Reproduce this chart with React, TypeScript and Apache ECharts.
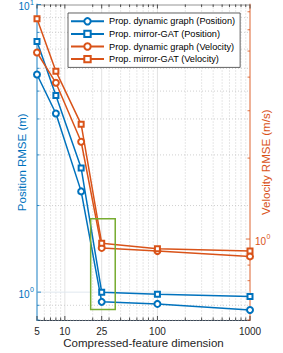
import React, { useEffect, useRef } from "react";
import * as echarts from "echarts";

// ---- data ----
const dims = [5, 8, 15, 25, 100, 1000];
const posDynamic = [5.71, 4.18, 2.24, 0.925, 0.91, 0.867];
const posMirror = [7.43, 4.83, 2.7, 1.0, 0.984, 0.965];
const velDynamic = [4.94, 3.81, 2.3, 0.927, 0.902, 0.862];
const velMirror = [6.59, 4.21, 2.67, 0.965, 0.92, 0.902];

const seriesNames = [
  "Prop. dynamic graph (Position)",
  "Prop. mirror-GAT (Position)",
  "Prop. dynamic graph (Velocity)",
  "Prop. mirror-GAT (Velocity)",
];

// ---- axes ----
const xRange = [5, 1000];
const leftRange = [0.8, 10];
const rightRange = [0.5, 7.45];
const xTickLabels = [5, 10, 25, 100, 1000];
const xMajorGrid = [10, 25, 100];
const xMinor = [6, 7, 8, 9, 20, 30, 40, 50, 60, 70, 80, 90, 200, 300, 400, 500, 600, 700, 800, 900];
const leftMajor = [1, 10];
const leftMinor = [0.8, 0.9, 2, 3, 4, 5, 6, 7, 8, 9];
const rightMajor = [1];
const rightMinor = [0.5, 0.6, 0.7, 0.8, 0.9, 2, 3, 4, 5, 6, 7];

// highlight rectangle (x in dims, y on the position axis)
const boxX = [19, 35];
const boxY = [0.87, 1.8];

const BLUE = "#0072BD";
const ORANGE = "#D95319";
const GREEN = "#77AC30";
const DARK = "#262626";
const FONT = "'Liberation Sans', Arial, Helvetica, sans-serif";

export default function App() {
  const ref = useRef<HTMLDivElement>(null);

  useEffect(() => {
    if (!ref.current) return;
    const chart = echarts.init(ref.current, undefined, { renderer: "svg" });

    const lineSeries = (name: string, data: number[], color: string, sym: string, size: number, yIdx: number, z: number) => ({
      name,
      type: "line",
      yAxisIndex: yIdx,
      data: dims.map((d, i) => [d, data[i]]),
      symbol: sym,
      symbolSize: size,
      showSymbol: true,
      z,
      lineStyle: { color, width: 1.5 },
      itemStyle: { color, borderColor: color, borderWidth: 1.4 },
      clip: false,
    });

    const overlayLeft = {
      type: "custom",
      xAxisIndex: 0,
      yAxisIndex: 0,
      z: 1,
      silent: true,
      clip: false,
      data: [[xRange[0], leftRange[0]]],
      renderItem: (params: any, api: any) => {
        const cs = params.coordSys;
        const L = cs.x, T = cs.y, R = cs.x + cs.width, B = cs.y + cs.height;
        const X = (v: number) => api.coord([v, leftRange[0]])[0];
        const Y = (v: number) => api.coord([xRange[0], v])[1];
        const ch: any[] = [];
        const ln = (x1: number, y1: number, x2: number, y2: number, stroke: string, w: number, dash?: number[]) =>
          ch.push({
            type: "line",
            shape: { x1, y1, x2, y2 },
            style: { stroke, lineWidth: w, lineDash: dash || null },
          });
        // grid
        xMinor.forEach((v) => { const x = X(v); ln(x, T, x, B, "#c4c4c4", 0.8, [1, 2]); });
        xMajorGrid.forEach((v) => { const x = X(v); ln(x, T, x, B, "#e2e2e2", 1); });
        leftMinor.forEach((v) => { const y = Y(v); ln(L, y, R, y, "#c4c4c4", 0.8, [1, 2]); });
        leftMajor.forEach((v) => { const y = Y(v); if (y > T + 1) ln(L, y, R, y, "#e0e8ef", 1); });
        // top box line
        ln(L, T + 0.5, R, T + 0.5, "#7a7a7a", 0.8);
        // x ticks (bottom & top)
        xMinor.forEach((v) => { const x = X(v); ln(x, B, x, B - 2.5, DARK, 0.8); ln(x, T, x, T + 2.5, DARK, 0.8); });
        xTickLabels.forEach((v) => { const x = X(v); ln(x, B, x, B - 4, DARK, 0.8); ln(x, T, x, T + 4, DARK, 0.8); });
        // left ticks
        leftMinor.forEach((v) => { const y = Y(v); ln(L, y, L + 2.5, y, BLUE, 0.8); });
        leftMajor.forEach((v) => { const y = Y(v); ln(L, y, L + 4, y, BLUE, 0.8); });
        // x tick labels
        xTickLabels.forEach((v) => {
          ch.push({
            type: "text",
            style: { text: String(v), x: X(v), y: B + 11, fill: DARK, fontSize: 10, fontFamily: FONT, align: "center", verticalAlign: "middle" },
          });
        });
        // left tick labels 10^n
        leftMajor.forEach((v) => {
          const y = Y(v);
          const e = Math.round(Math.log10(v));
          ch.push({ type: "text", style: { text: String(e), x: L - 3, y: y - 2.5, fill: BLUE, fontSize: 7, fontFamily: FONT, align: "right", verticalAlign: "middle" } });
          ch.push({ type: "text", style: { text: "10", x: L - 7.5, y: y + 2, fill: BLUE, fontSize: 10, fontFamily: FONT, align: "right", verticalAlign: "middle" } });
        });
        return { type: "group", children: ch };
      },
    };

    const overlayRight = {
      type: "custom",
      xAxisIndex: 0,
      yAxisIndex: 1,
      z: 1,
      silent: true,
      clip: false,
      data: [[xRange[0], rightRange[0]]],
      renderItem: (params: any, api: any) => {
        const cs = params.coordSys;
        const R = cs.x + cs.width;
        const Y = (v: number) => api.coord([xRange[0], v])[1];
        const ch: any[] = [];
        const ln = (x1: number, y1: number, x2: number, y2: number, stroke: string, w: number) =>
          ch.push({ type: "line", shape: { x1, y1, x2, y2 }, style: { stroke, lineWidth: w } });
        rightMinor.forEach((v) => { const y = Y(v); ln(R, y, R - 2.5, y, ORANGE, 0.8); });
        rightMajor.forEach((v) => {
          const y = Y(v);
          ln(R, y, R - 4, y, ORANGE, 0.8);
          const e = Math.round(Math.log10(v));
          ch.push({ type: "text", style: { text: "10", x: R + 5, y: y + 2, fill: ORANGE, fontSize: 10, fontFamily: FONT, align: "left", verticalAlign: "middle" } });
          ch.push({ type: "text", style: { text: String(e), x: R + 16.6, y: y - 2.5, fill: ORANGE, fontSize: 7, fontFamily: FONT, align: "left", verticalAlign: "middle" } });
        });
        return { type: "group", children: ch };
      },
    };

    const boxSeries = {
      type: "custom",
      xAxisIndex: 0,
      yAxisIndex: 0,
      z: 5,
      silent: true,
      clip: false,
      data: [[boxX[0], boxY[0], boxX[1], boxY[1]]],
      renderItem: (params: any, api: any) => {
        const p0 = api.coord([api.value(0), api.value(1)]);
        const p1 = api.coord([api.value(2), api.value(3)]);
        return {
          type: "rect",
          shape: { x: Math.min(p0[0], p1[0]), y: Math.min(p0[1], p1[1]), width: Math.abs(p1[0] - p0[0]), height: Math.abs(p1[1] - p0[1]) },
          style: { fill: "none", stroke: GREEN, lineWidth: 1.5 },
        };
      },
    };

    const option: any = {
      animation: false,
      backgroundColor: "#ffffff",
      grid: { left: 37, right: 33, top: 4.5, bottom: 33, outerBoundsMode: "none" },
      xAxis: {
        type: "log",
        logBase: 10,
        min: xRange[0],
        max: xRange[1],
        name: "Compressed-feature dimension",
        nameLocation: "middle",
        nameGap: 17,
        nameTextStyle: { color: DARK, fontSize: 11.5, fontFamily: FONT },
        axisLine: { show: true, onZero: false, lineStyle: { color: "#3a4654", width: 1 } },
        axisTick: { show: false },
        axisLabel: { show: false },
        splitLine: { show: false },
        minorTick: { show: false },
        minorSplitLine: { show: false },
      },
      yAxis: [
        {
          type: "log",
          logBase: 10,
          position: "left",
          min: leftRange[0],
          max: leftRange[1],
          name: "Position RMSE (m)",
          nameLocation: "middle",
          nameGap: 9.5,
          nameTextStyle: { color: BLUE, fontSize: 11.5, fontFamily: FONT },
          axisLine: { show: true, onZero: false, lineStyle: { color: "rgba(0,114,189,0.45)", width: 2 } },
          axisTick: { show: false },
          axisLabel: { show: false },
          splitLine: { show: false },
        },
        {
          type: "log",
          logBase: 10,
          position: "right",
          min: rightRange[0],
          max: rightRange[1],
          name: "Velocity RMSE (m/s)",
          nameLocation: "middle",
          nameGap: 10,
          nameTextStyle: { color: ORANGE, fontSize: 11.5, fontFamily: FONT },
          axisLine: { show: true, onZero: false, lineStyle: { color: "rgba(217,83,25,0.45)", width: 2 } },
          axisTick: { show: false },
          axisLabel: { show: false },
          splitLine: { show: false },
        },
      ],
      legend: {
        orient: "vertical",
        left: 68,
        top: 13,
        data: seriesNames,
        itemWidth: 33,
        itemHeight: 8,
        itemGap: 3.6,
        padding: [3.8, 5, 3.8, 2],
        backgroundColor: "#ffffff",
        borderColor: "#3a3a3a",
        borderWidth: 0.8,
        borderRadius: 0,
        selectedMode: false,
        textStyle: { color: "#000000", fontSize: 9.2, fontFamily: FONT },
      },
      series: [
        overlayLeft,
        overlayRight,
        lineSeries(seriesNames[0], posDynamic, BLUE, "emptyCircle", 6, 0, 2),
        lineSeries(seriesNames[1], posMirror, BLUE, "emptyRect", 5, 0, 3),
        lineSeries(seriesNames[2], velDynamic, ORANGE, "emptyCircle", 6, 1, 4),
        lineSeries(seriesNames[3], velMirror, ORANGE, "emptyRect", 5, 1, 4),
        boxSeries,
      ],
    };

    chart.setOption(option);
    return () => chart.dispose();
  }, []);

  return (
    <div
      ref={ref}
      style={{ position: "fixed", left: 0, top: 0, width: 283, height: 353, background: "#fff" }}
    />
  );
}
